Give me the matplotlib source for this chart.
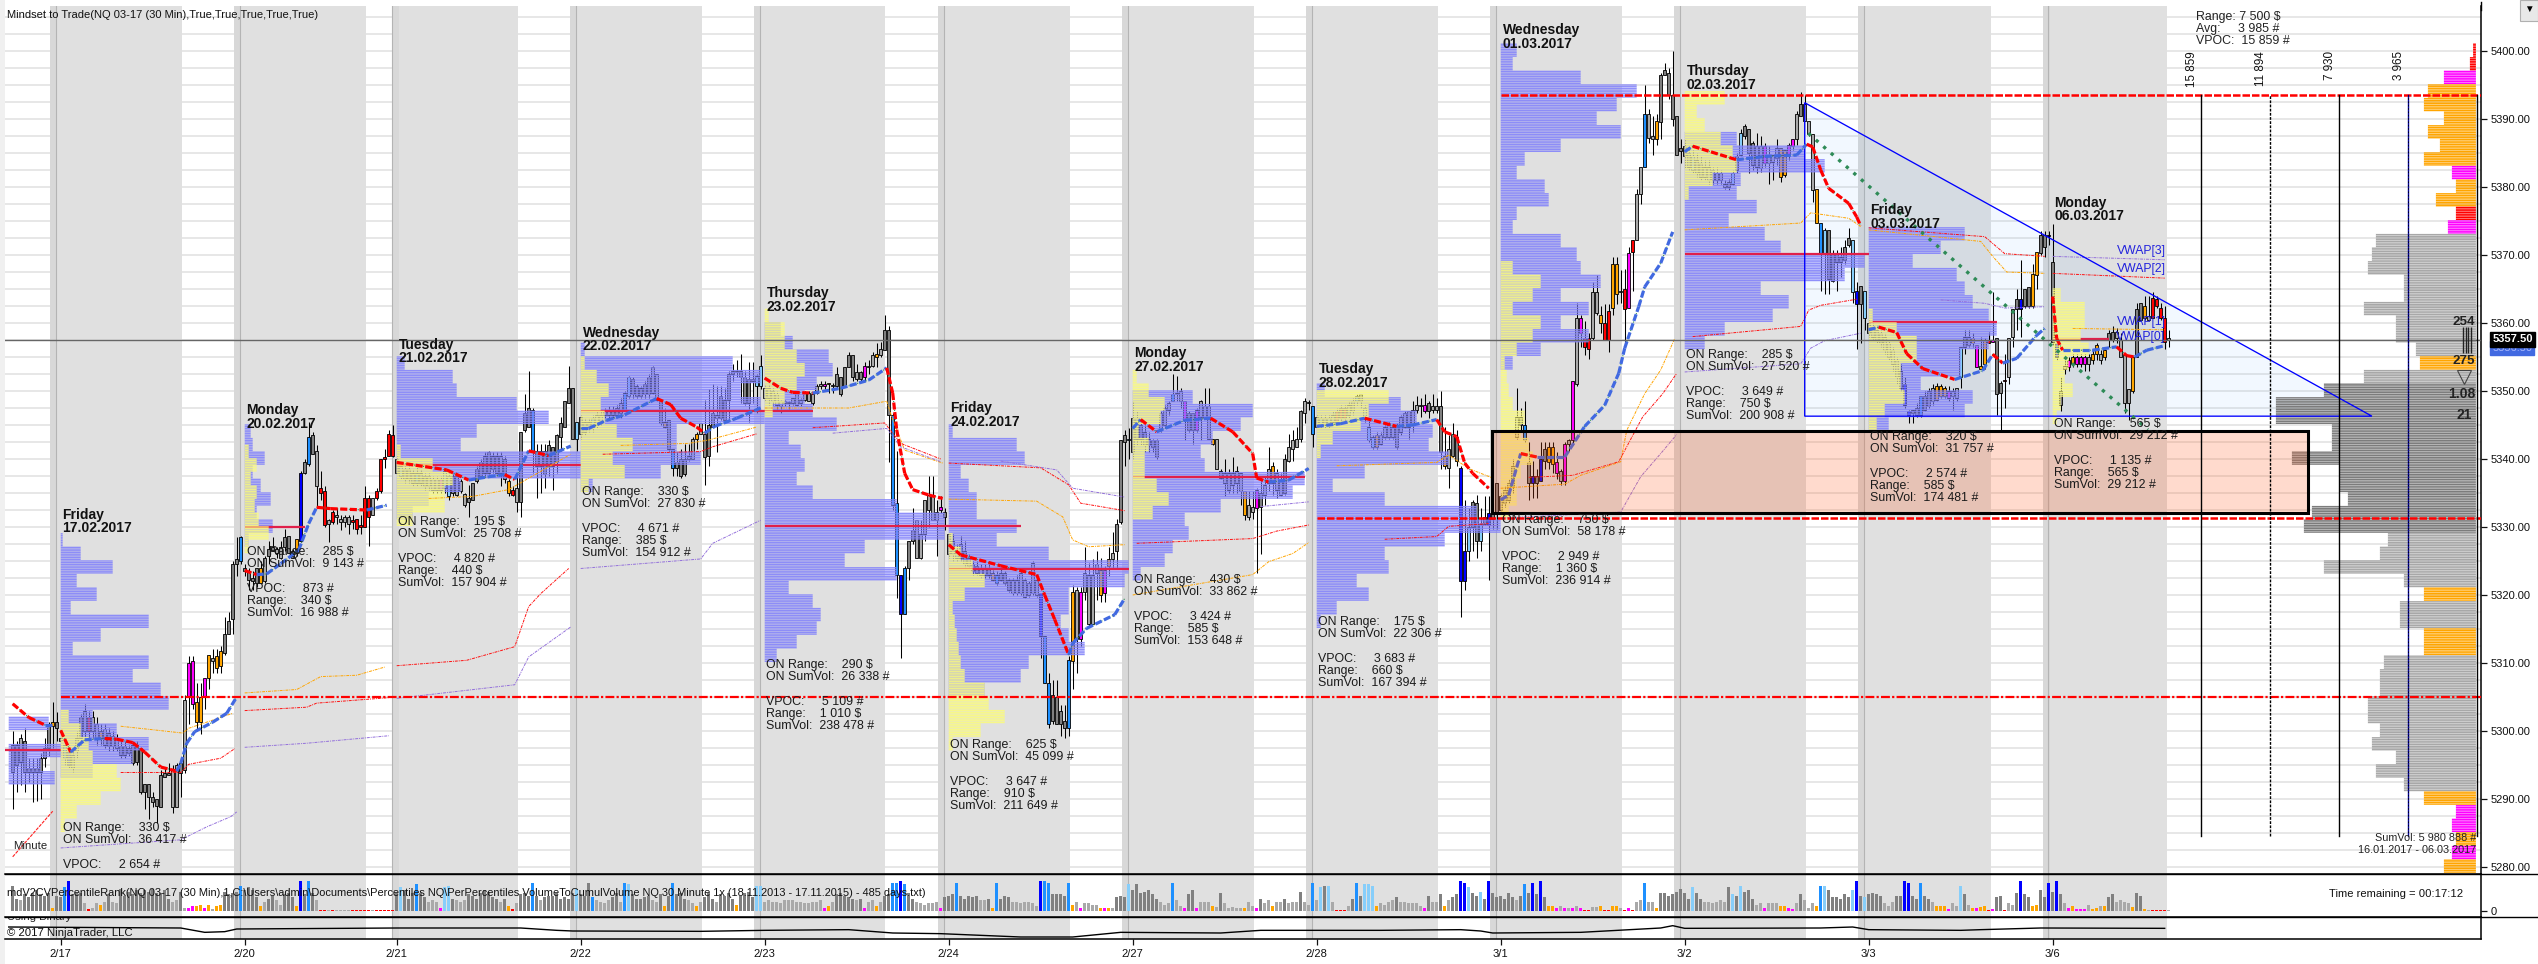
import matplotlib
matplotlib.use('Agg')
import numpy as np
import matplotlib.pyplot as plt
from matplotlib.lines import Line2D
from matplotlib.patches import Polygon, Rectangle
from matplotlib.ticker import FuncFormatter

plt.rcParams['font.family'] = ['Liberation Sans', 'DejaVu Sans']

W, H = 2538, 964
PRICE_BASE = 5000  # all prices below are minus this

# x unit = one 30 min bar, bar 0 is the first bar of 2/17
session_bars = [0, 46, 84, 130, 176, 222, 268, 314, 360, 406, 452, 498]
session_ticks = ['2/17', '2/20', '2/21', '2/22', '2/23', '2/24', '2/27', '2/28', '3/1', '3/2', '3/3', '3/6']

# (high, body top, body bottom, low)
bars_pre = [(300, 298, 294, 288.5), (298.5, 298, 295, 291), (299.5, 299, 295.5, 292), (300.5, 298.5, 294, 291),
            (296, 294.5, 294, 292.5), (296, 294.5, 294, 289.5), (296, 294.5, 294, 289.75), (296.75, 296, 294, 290),
            (299, 297.5, 296, 294.75), (301.25, 301, 297.5, 296.25), (304.25, 301.25, 300.75, 297.5),
            (302.75, 301.25, 300.5, 298.5)]
bars_0217 = [(299.5, 299, 298.5, 298.5), (299, 298, 296, 295), (298, 297, 295, 294.5), (297, 296.5, 294.5, 294),
             (300, 299, 297, 296), (302.5, 302, 299, 298), (304, 303, 300, 299), (303, 302, 300, 299),
             (303, 302, 300, 299), (302, 301, 298.75, 298), (301, 300, 298.75, 298), (301, 300.25, 298, 297.5),
             (300.5, 299.75, 297.75, 297), (300, 299.25, 297.75, 297), (299.5, 298.75, 297.5, 297),
             (298.75, 297.75, 296.5, 296), (298.5, 297.75, 296.5, 296), (298, 297.5, 296.75, 296.25),
             (298.5, 298, 295.25, 295), (298.5, 298, 295.5, 295), (297.5, 297.5, 291, 290.75),
             (292.25, 292.25, 291, 288.5), (292.25, 292.25, 290.25, 287), (291, 290.25, 289.5, 288.75),
             (290, 290, 289, 286.5), (294.25, 293.5, 288.75, 288.75), (294.75, 293.75, 293.25, 293.25),
             (295.25, 293.75, 293.5, 293.5), (295, 294.25, 288.75, 288), (295.25, 295, 288.75, 288.75),
             (296, 295.25, 293.75, 290.25), (305.25, 304.5, 294.25, 293.75), (311, 310, 305, 301),
             (311, 310.25, 304, 303.25), (307, 304.25, 301.25, 300), (307, 305, 301.25, 299.5),
             (307.75, 307.75, 305, 303.25), (311.25, 311.25, 307.75, 306.25), (312, 310.75, 310.25, 308.5),
             (312, 311, 309.25, 308.5), (312.5, 311.75, 309.5, 308.5), (316.75, 314.25, 311.5, 311.25),
             (317.5, 316.25, 314.25, 314.25), (325, 324.5, 316.5, 314.25), (328.5, 325.25, 324.5, 322.75),
             (328.75, 328.5, 325, 324.5)]
bars_0220 = [(324.5, 324, 323.5, 322.75), (324, 323.5, 322.25, 320.75), (323.5, 322.5, 322, 320.75),
             (324, 324, 321.75, 321.25), (325, 324, 321.75, 321.75), (325.75, 325.5, 322, 321.75),
             (328, 326.75, 325.75, 324.5), (328.5, 327, 326.5, 326.5), (327, 326.75, 326.25, 325.5),
             (328, 327, 325.5, 325.25), (329.75, 328.5, 327, 326.5), (328.75, 328.75, 326.25, 326.25),
             (326.75, 326.5, 325.5, 325.5), (328.25, 328.25, 326.25, 325.75), (338.25, 338, 328, 327.75),
             (340, 339.5, 338, 337.75), (345.5, 343.25, 339.25, 339), (344, 343.5, 340.75, 340.75),
             (342, 341.25, 336, 333), (338.25, 335.75, 335, 334), (336, 335.25, 330.25, 330),
             (331.25, 331, 330.5, 327.75), (332.5, 332.25, 330.75, 330.5), (332.75, 331.75, 331.5, 330.5),
             (331.75, 331.25, 330.75, 329.5), (331.75, 331.5, 330.75, 330), (331.75, 331.5, 330.5, 329),
             (331.75, 331, 330.75, 329.75), (331.25, 331.25, 329.75, 329), (331.75, 330.25, 330, 329),
             (336, 334.25, 330, 330), (334.75, 334.25, 331.5, 327.25), (334.25, 334.25, 331.75, 331.75),
             (335.75, 335.25, 334.25, 334), (340, 340, 335.25, 335), (341.5, 340.25, 340, 338.75),
             (344.25, 343.75, 340.5, 340.5), (345, 343.5, 340.5, 340.25)]
bars_0221 = [(340.5, 340, 338, 337.75), (339.5, 339, 337.5, 337), (339, 338.5, 337, 336.5), (339, 338.5, 337, 336.5),
             (338.5, 338, 336.5, 336), (339, 338, 336.5, 336), (338.5, 338, 336.5, 336), (338, 337.5, 336, 335.5),
             (338, 337.5, 336, 335.5), (337.5, 337, 335.5, 335), (337.5, 337, 335.5, 335), (337.5, 337, 335.5, 335),
             (338.5, 338.25, 335.75, 335), (338, 337.5, 334.5, 334), (338, 337.5, 335, 334.5),
             (337.5, 337.5, 334.75, 334.5), (337, 336.75, 335.25, 335), (335, 334.9, 333.25, 333),
             (336.25, 334.25, 333.75, 331.5), (336.5, 336.5, 334, 334), (339, 338.5, 336.75, 336.5),
             (340, 339.5, 337.5, 337.25), (341, 340.5, 338, 337.5), (341.25, 341, 338, 337.5),
             (341, 340.5, 338.5, 338), (341, 340.5, 338, 337.5), (341, 340.5, 338, 336), (340.5, 340, 337, 336.5),
             (337, 336.75, 335, 334.5), (336, 335.5, 334.75, 334.5), (337.5, 335.75, 333.75, 332.25),
             (344, 344, 333.75, 331.5), (349.5, 346.75, 344.25, 344), (353, 347.5, 344.75, 344.75),
             (347.5, 347.25, 341.25, 338), (342.25, 341.25, 339, 334.25), (342.25, 341.25, 339, 335),
             (342.25, 341.25, 337.75, 335.75), (342.75, 342, 339, 337.5), (341.75, 341.75, 339, 335.5),
             (343.75, 343.5, 339.5, 338), (346.25, 345.25, 343.25, 341.25), (348.5, 348.5, 344.75, 344.75),
             (353.75, 350.5, 348.25, 348.25), (350.5, 350.5, 343, 343), (345.5, 345.5, 343, 341.25)]
bars_0222 = [(346.5, 346.25, 343.75, 343), (346, 345.5, 344, 343.5), (346, 345.5, 344.5, 344), (346.5, 346, 344.5, 344),
             (347, 346.5, 345, 344.5), (347, 346.5, 345.5, 345), (347.5, 347.25, 346.5, 346), (347.75, 347.25, 346.5, 346),
             (347.75, 347.25, 346.5, 346), (348, 347.5, 346.5, 346), (349, 348.25, 346.75, 346), (350, 349.75, 347.25, 347),
             (352.25, 352, 349.25, 349), (352, 351.75, 349.5, 349), (351, 350.75, 349.25, 349),
             (350.75, 350.5, 349.25, 349), (351.5, 351, 349.5, 349), (352.5, 352, 349.5, 349),
             (353.75, 353.5, 349.75, 349.5), (352.5, 352.5, 348.75, 348.5), (348.75, 348.5, 345.25, 345),
             (347.5, 345.5, 344.75, 344.5), (345.75, 345.75, 341.5, 341.25), (341.5, 341.5, 338.75, 337.5),
             (341, 339.5, 338.75, 337.5), (341.5, 340, 337.5, 337.25), (342.25, 340, 337.75, 337.5),
             (342.25, 340.5, 340, 339.75), (343.25, 343, 340, 340), (344, 343.75, 343, 341.5),
             (345.25, 345.25, 343.75, 343.75), (348.75, 343.75, 340.25, 336.25), (350.25, 345, 340.5, 339),
             (351, 346.75, 344.75, 344.75), (350.75, 346.5, 346, 341), (350.75, 349.25, 346, 345.75),
             (350.5, 348.75, 345.75, 345.75), (353, 352.5, 348.75, 345.75), (354, 353, 352.5, 351.5),
             (354.5, 353, 352.75, 352), (355.5, 353, 352, 348.25), (353, 352, 348.25, 348),
             (354.25, 351.75, 348.25, 345.5), (354.25, 351.75, 351.5, 348.25), (352.5, 352.25, 350.75, 346.75),
             (355.25, 353.75, 350.75, 350.25)]
bars_0223 = [(351, 350.5, 349, 348.5), (351, 350.5, 349, 348), (350.5, 350, 348.5, 348), (350, 349.5, 348, 347),
             (348.75, 348.5, 347.75, 346.75), (348.75, 348.5, 348.25, 347.75), (348.5, 348.4, 348.2, 347.25),
             (349, 349, 348.25, 348), (350, 349.75, 348, 347.75), (349, 348.75, 348.25, 347.75),
             (350, 349.75, 348.75, 348.5), (350, 349.75, 348.5, 348.5), (349.5, 349.5, 348.25, 348),
             (351, 350.75, 349.75, 349.5), (351.5, 351, 350.75, 350.25), (351.5, 351, 350.75, 350.25),
             (351.25, 351.25, 351, 349.75), (351.25, 350.9, 350.7, 349.75), (353.5, 352.5, 350.75, 350.5),
             (352, 352, 349.5, 349.25), (353.5, 353.5, 350.75, 350.75), (355.75, 355.25, 353.5, 353.5),
             (355.25, 355.25, 352, 351.5), (354, 352.75, 351.75, 351.5), (353, 352.75, 351.75, 351.5),
             (354.25, 353.75, 352, 351.5), (354.5, 353.75, 353.5, 352.5), (355.75, 355.25, 353.75, 353.5),
             (357, 355.5, 355, 353.5), (357.25, 356.25, 355.25, 355), (361.25, 359, 356, 356),
             (359.5, 359, 346.5, 339.5), (346.75, 346.5, 333.25, 332.5), (341.25, 333.5, 323, 319.5),
             (323, 323, 317.25, 310.75), (324.25, 324, 317.25, 317.25), (328, 328, 324, 322.25),
             (332.75, 329.5, 328, 327.5), (331, 331, 325.5, 325.5), (331, 329, 325.5, 325.25), (334, 334, 329, 328),
             (337.5, 334.75, 332.5, 330), (337.5, 334.75, 331, 331), (334, 332.25, 331, 325.75),
             (334.5, 333, 332.5, 332), (332.75, 332.25, 331.5, 329.5)]
bars_0224 = [(329, 329, 326, 325.5), (329, 328, 326, 325), (327.5, 326.5, 325.5, 325), (328.75, 327.5, 325.5, 325),
             (328, 326.5, 324.5, 324), (326, 325.5, 324.25, 324), (325, 324.5, 323.5, 323), (325, 324.25, 323.25, 323),
             (324.5, 324, 323, 322.5), (324.5, 324, 323, 322.5), (324.5, 324, 323, 322.5), (323.75, 323.25, 322.25, 322),
             (323.5, 323, 321.75, 321.5), (324, 323.25, 322.25, 322), (323.5, 323.25, 321.75, 321.5),
             (322.5, 322.25, 320.75, 320.5), (322.5, 322.25, 320.25, 320), (323, 322.25, 320.25, 320),
             (323.5, 323.25, 320.25, 320), (322.5, 322.25, 319.75, 319.5), (322, 321.75, 320, 319.75),
             (325, 324.75, 320.25, 320), (322.5, 322.25, 320, 319.75), (320.25, 320.25, 314, 310.75),
             (314, 314, 307, 307), (308.5, 307, 301, 300.5), (307.5, 305.25, 301.5, 301), (307.5, 305, 301, 301),
             (303.75, 303, 301, 299.25), (303.75, 301.5, 300.5, 299), (311, 310.5, 300.5, 299.25),
             (321.5, 320.5, 310.25, 306.25), (321.25, 320.75, 313.5, 308.5), (321.25, 320.5, 313.5, 312.5),
             (327, 323.25, 320.5, 319.25), (324.75, 323, 315.75, 315.5), (325.25, 323, 315.75, 315.75),
             (326.5, 324.5, 323.25, 319.25), (325.5, 323.75, 320, 319), (324.25, 323.75, 320.25, 319),
             (327, 325.25, 324.25, 322.75), (329.25, 326.25, 325.25, 324), (331.25, 330.5, 326.5, 324),
             (342.75, 342.75, 330.75, 330.5), (344.25, 343.5, 342.5, 339), (344.5, 343, 342.75, 340)]
bars_0227 = [(348.5, 346, 341, 340), (347, 346, 343, 342), (346, 345, 343, 342), (345, 344, 342, 341),
             (344, 343, 342, 341), (343, 342.75, 341.75, 341), (343, 342.75, 340.25, 340), (347, 346.75, 344.25, 344),
             (348, 347.5, 345, 344.5), (348.5, 348.25, 347.25, 346.5), (352.5, 349.5, 348.5, 348.5),
             (352.25, 349.75, 349.5, 348.5), (350.5, 350, 348.5, 347.5), (348.5, 348.5, 345.75, 342.75),
             (347, 346.75, 344.25, 344), (346.75, 346.75, 344.25, 342.25), (347.5, 347.25, 344.25, 344),
             (348.75, 348.5, 346.25, 342.75), (350.5, 347.75, 346, 346), (350.5, 347.75, 343, 343),
             (343, 343, 342.25, 342), (343, 343, 338.5, 338.5), (338.5, 338.25, 337.25, 337), (340, 338, 336.5, 334.5),
             (338.5, 338, 335.5, 335), (340.25, 338, 336.25, 335), (339, 338.25, 336.5, 335),
             (338, 338, 335.25, 333.25), (335.25, 335.25, 331.75, 331), (335.25, 333.25, 331.5, 331),
             (335.25, 333, 332.25, 331.25), (335.75, 335.5, 332.75, 323.25), (337.5, 335, 333, 326),
             (337.5, 336.25, 334.75, 333.25), (341.75, 338.5, 336.5, 335.25), (339.5, 339, 336.5, 334.75),
             (338.5, 338, 335.5, 334.25), (338, 337, 334.75, 334.5), (340.75, 340, 335, 334.75),
             (343.75, 341.75, 339.75, 339.5), (344.25, 342.75, 341.5, 339.75), (344.75, 343, 341.75, 341.75),
             (347.25, 347, 343, 342.5), (349, 348.5, 346.75, 345.25), (348.75, 348.4, 348.2, 347.25),
             (347.75, 347.75, 343.75, 341.75)]
bars_0228 = [(346.5, 346.25, 344.75, 344.5), (346.5, 346, 345, 344.5), (346.5, 346, 345, 344.5), (346.5, 346, 345, 344.5),
             (347, 346.5, 345.5, 345), (347.5, 347, 345.5, 345), (348, 347.5, 346, 345.5), (348, 347.5, 346, 345.5),
             (348.5, 348, 346.5, 346), (349, 348.5, 347, 346.5), (349.5, 349.25, 348.5, 348),
             (349.5, 349.5, 348.5, 347.5), (348, 347.5, 346, 345.5), (346, 344.75, 342.75, 342.5),
             (343.5, 343.25, 341.75, 341.5), (344, 343.5, 341.75, 341.5), (344, 343.5, 342.25, 342),
             (345, 344.75, 343.25, 343), (345.5, 345.25, 343.25, 343), (345, 344.75, 343.25, 343),
             (345.25, 345, 341.75, 341.5), (346.5, 346.25, 344, 343.5), (347, 346.75, 344.75, 344.5),
             (347, 347, 344.75, 343), (348.5, 347.25, 345, 344), (349.25, 348, 347.25, 346.75),
             (349, 348, 347.75, 346.25), (349.5, 348, 347, 346.75), (348.5, 348.25, 347, 346),
             (349.5, 347.75, 347.25, 346.75), (349, 347.75, 347.25, 346.75), (350, 347.75, 341, 338.5),
             (344.75, 340.5, 339, 338.5), (343.5, 341.5, 338.75, 335.75), (345.25, 343.75, 340.5, 340.25),
             (344.25, 343.25, 339.75, 339), (339, 338.75, 322, 316.75), (334, 326.5, 322, 320.75),
             (332.75, 330, 326.5, 325), (334, 333.75, 330, 326.5), (334.75, 333.5, 328, 325.5),
             (332.75, 330.5, 328, 326.5), (334.5, 331.5, 330.5, 330.25), (334.5, 332, 330.25, 322.25),
             (333.5, 332, 331.25, 329.75), (336.5, 336.5, 332, 329.75)]
bars_0301 = [(335, 334.5, 332.5, 332), (336, 335.5, 333.5, 333), (337, 336.5, 334, 333.5), (340, 339, 336, 335),
             (350.5, 346.25, 343.25, 343), (347.5, 346.25, 345, 344), (348.5, 345, 342.75, 342.5),
             (342.5, 339.5, 336.5, 334), (339.75, 337.5, 336.5, 334.25), (338.5, 337.5, 336.5, 334.25),
             (342.5, 340, 336.75, 336.75), (342.5, 341.5, 339.75, 338.5), (342.5, 341.75, 339.5, 338.5),
             (342.5, 341.75, 339.25, 338), (341, 339.5, 338, 337), (338.5, 338.25, 336.75, 336.25),
             (342.5, 342.25, 336.75, 336.25), (343, 342.75, 342.25, 341.25), (351.5, 351.5, 342.75, 342),
             (363, 360.75, 351, 350.75), (361.25, 360.75, 358.5, 356.5), (360.25, 357.75, 356.5, 355.25),
             (358.5, 357.75, 356.25, 354.75), (366, 364.5, 357.75, 357.5), (367, 364.5, 361.5, 361.25),
             (362.5, 361.25, 360, 358.5), (362.75, 360, 357.5, 357.5), (362.75, 361.75, 357.5, 355.75),
             (369.75, 368.75, 362.25, 361.25), (369.75, 368.75, 364.25, 362.75), (367.75, 364.75, 364.5, 363),
             (368, 365, 362, 356.5), (371.25, 370.25, 362.25, 362.25), (372.25, 372.25, 370.5, 364.75),
             (379.75, 379, 372.25, 372.25), (383, 383, 379, 377.5), (395, 390.75, 383, 383),
             (391.5, 390.75, 387.25, 386.5), (390.5, 387.5, 387, 384.75), (390.75, 389.75, 387, 386.25),
             (396.75, 396.5, 389.5, 387), (398.25, 397.25, 396.5, 396.5), (397.5, 396.75, 393.5, 393),
             (400, 393.5, 390, 389), (390.5, 390.5, 384.75, 384.75), (387, 385.75, 385.25, 383.5)]
bars_0302 = [(387, 386, 384.5, 382.75), (386, 385, 383, 382.5), (385.5, 384.5, 382.5, 382), (385, 384, 382, 381.5),
             (384.5, 383.5, 381.5, 381), (384, 383, 381.5, 381), (384, 383, 381, 380.5), (383, 382.5, 381, 380.5),
             (383, 382, 381, 380.5), (382.5, 382, 381, 380.5), (381, 380.5, 380, 379.75), (381.25, 380.75, 380, 379.5),
             (382.5, 382, 380.5, 380.25), (385, 384.5, 382.5, 382), (388.5, 388, 384.75, 384.5),
             (389.25, 389, 387.5, 387), (388.5, 388.5, 385, 382), (386.75, 386.5, 383.25, 382.5), (388, 386, 383, 382),
             (387.5, 386, 382.75, 382.25), (386.5, 386, 383.5, 383), (386, 384.75, 383.5, 380.5),
             (384.75, 384.75, 383.75, 381), (387, 385.75, 384.25, 383.25), (385.75, 385.75, 381.5, 380.75),
             (385.5, 385.5, 381.75, 381.5), (386.5, 386.25, 384.75, 384), (387, 387, 386, 385.5),
             (391.25, 390.75, 387, 386.25), (394, 392.25, 390.5, 390.5), (393.5, 392.25, 389.75, 389.75),
             (389.75, 389.75, 387.75, 387.5), (387.75, 387.75, 379.5, 377.75), (379.75, 379.75, 374.75, 374.75),
             (374.75, 374.75, 370.25, 364.75), (374, 373.75, 370.25, 364.25), (373.75, 373.75, 366.5, 364.25),
             (370.75, 370.25, 366.25, 366), (370.75, 370.25, 369, 364.75), (371.25, 369.75, 369, 366.75),
             (372.25, 371.25, 369.25, 368.75), (374, 372.5, 371.5, 371.25), (372.25, 372.25, 364.5, 363),
             (366, 364.75, 362.75, 356.25), (365.5, 365.5, 362.75, 357), (364.75, 364.75, 360.75, 359)]
bars_0303 = [(360.5, 360, 358.5, 358), (360, 359.5, 358, 357.5), (359.5, 359, 357.5, 357), (359, 358.5, 357, 356.5),
             (358.5, 358, 356, 355.5), (357.5, 357, 355, 354.5), (356.5, 356, 354, 353), (355, 354.5, 352, 351),
             (354, 353, 350.5, 350), (352, 351, 348, 347.5), (347.25, 347, 346.5, 345.25),
             (347.25, 347.25, 346.75, 345.25), (348.25, 347.5, 346.5, 346.25), (349.25, 349.25, 346.5, 346.25),
             (350, 349.25, 347.25, 347), (350.5, 350, 347.75, 347.5), (351, 350.5, 348.5, 348),
             (351.25, 350.75, 348.75, 348.5), (351, 350.75, 349.25, 349), (350.75, 350.5, 349.25, 349),
             (350.75, 350, 349, 348.5), (350.5, 350, 349.25, 347.25), (350.5, 350.5, 349, 348.5),
             (356.5, 356.5, 352, 350.5), (359, 358, 356.5, 355.5), (359, 358, 356.75, 356.5),
             (358.5, 357.75, 357, 356.5), (356.75, 356.75, 353.5, 353.5), (358, 353.75, 353.25, 353.25),
             (357.75, 357.5, 354, 353.25), (358.75, 357.5, 357, 357), (364.5, 357.5, 357.25, 357.25),
             (357.75, 357.75, 349.5, 346.5), (351.5, 351.25, 349.75, 344.25), (355.5, 351.6, 351.4, 347.5),
             (357.75, 357.75, 352, 351), (362, 362, 358, 356.5), (365, 363.5, 362, 359), (369.25, 363.5, 362, 358),
             (365, 365, 362.5, 362.25), (365.25, 365.25, 362.5, 362.25), (368.75, 367.25, 362.5, 362.25),
             (370.5, 370.5, 367, 365), (373.5, 373, 370.25, 370), (373.5, 373, 371.25, 369.75),
             (373.5, 373, 372.75, 371.5)]
bars_0306 = [(374.5, 369, 357.25, 356.75), (358, 357, 355, 354.5), (352, 350, 348, 347), (354.5, 353.75, 353.25, 352.5),
             (355, 354.5, 353.5, 353), (355.5, 355, 354, 353.5), (355.5, 355, 354, 353.5), (355.5, 355, 354, 353.5),
             (355.5, 355, 354, 353), (355.5, 355, 354, 353), (356, 355.5, 354.5, 354), (357, 356.75, 355.5, 354.5),
             (356, 355.5, 354.5, 354), (356.5, 356, 355, 354.5), (359, 358.5, 357.5, 356.5),
             (359.5, 358.75, 357.5, 357.25), (359.25, 358.75, 357.75, 357), (358.5, 357.5, 355, 355),
             (355.25, 355.25, 348.25, 346.75), (350.25, 350.25, 348.25, 345.75), (355, 355, 350, 349.75),
             (363, 362, 355, 355), (363, 363, 360.5, 360.5), (364, 362.5, 360.75, 360.5), (364, 361, 360.5, 360.25),
             (364.5, 363.75, 360.75, 360.75), (364, 363.5, 362.5, 362.25), (363, 362.25, 360.75, 360.5),
             (362.5, 360.75, 357.25, 356.25), (359, 357.75, 357.5, 356.5)]

# volume per bar, 100 = tallest bar in the panel
vol_pre = [85, 40, 35, 55, 45, 60, 70, 55, 50, 60, 10, 50]
vol_0217 = [45, 80, 100, 55, 60, 60, 25, 5, 8, 25, 20, 30, 55, 30, 25, 75, 50, 65, 55, 70, 60, 70, 65, 75, 60, 60, 70,
            40, 30, 35, 65, 10, 8, 15, 15, 18, 10, 18, 5, 15, 18, 65, 55, 60, 65, 85]
vol_0220 = [70, 80, 70, 45, 15, 30, 40, 50, 35, 20, 55, 60, 45, 15, 100, 55, 100, 60, 35, 3, 3, 4, 3, 4, 4, 4, 4, 3, 3,
            3, 3, 3, 4, 3, 3, 3, 3, 3]
vol_0221 = [60, 80, 70, 40, 60, 90, 60, 45, 30, 35, 30, 8, 80, 85, 40, 35, 30, 35, 55, 50, 40, 60, 70, 65, 45, 40, 30,
            40, 15, 5, 25, 55, 60, 50, 95, 50, 35, 45, 50, 50, 60, 40, 45, 40, 60, 75]
vol_0222 = [55, 50, 95, 45, 35, 30, 25, 35, 45, 60, 30, 95, 90, 55, 40, 40, 45, 50, 35, 30, 55, 15, 50, 95, 55, 60, 40,
            35, 25, 15, 30, 45, 60, 40, 30, 55, 50, 60, 40, 20, 50, 60, 65, 45, 85, 85]
vol_0223 = [30, 35, 30, 30, 25, 35, 35, 35, 30, 30, 25, 25, 30, 30, 35, 10, 15, 30, 55, 60, 50, 45, 40, 35, 40, 10, 30,
            35, 15, 30, 50, 55, 95, 95, 100, 90, 60, 40, 30, 25, 20, 25, 25, 30, 8, 45]
vol_0224 = [50, 55, 95, 50, 40, 50, 45, 50, 35, 35, 40, 10, 95, 40, 50, 45, 30, 30, 25, 30, 30, 25, 15, 100, 100, 95,
            55, 55, 55, 50, 95, 20, 30, 10, 25, 25, 20, 20, 10, 10, 10, 10, 45, 50, 45, 90]
vol_0227 = [70, 90, 60, 65, 70, 55, 40, 30, 20, 25, 95, 35, 15, 8, 55, 70, 10, 30, 30, 30, 15, 12, 60, 25, 10, 12, 8, 8,
            8, 30, 15, 8, 40, 25, 35, 15, 30, 30, 40, 25, 30, 30, 65, 30, 20, 95]
vol_0228 = [35, 80, 85, 85, 30, 3, 3, 3, 15, 40, 95, 50, 90, 90, 85, 15, 25, 20, 30, 35, 45, 30, 30, 25, 25, 25, 15, 10,
            50, 30, 30, 55, 15, 35, 45, 55, 100, 95, 80, 60, 50, 65, 40, 100, 60, 45]
vol_0301 = [50, 40, 60, 45, 35, 50, 90, 60, 95, 55, 100, 45, 15, 15, 8, 15, 8, 10, 8, 15, 8, 3, 3, 12, 12, 15, 3, 3, 15,
            15, 8, 3, 8, 3, 30, 35, 95, 30, 30, 10, 60, 60, 50, 55, 65, 75]
vol_0302 = [60, 40, 80, 60, 40, 30, 28, 25, 30, 35, 30, 80, 55, 50, 85, 65, 70, 40, 20, 25, 8, 25, 25, 25, 15, 15, 8, 5,
            25, 55, 35, 8, 25, 15, 85, 85, 70, 45, 45, 40, 55, 45, 70, 100, 50, 45]
vol_0303 = [55, 60, 55, 50, 25, 15, 30, 50, 50, 100, 95, 50, 40, 95, 50, 40, 30, 15, 15, 15, 5, 25, 15, 85, 55, 20, 8,
            8, 12, 15, 3, 5, 45, 50, 3, 25, 20, 60, 100, 55, 45, 15, 18, 70, 45, 95]
vol_0306 = [65, 100, 55, 25, 8, 15, 5, 5, 5, 20, 5, 8, 15, 15, 45, 55, 30, 35, 30, 25, 12, 60, 50, 5, 3, 3, 3, 3, 3, 3]

# percentile class of a bar, everything else is plain grey
rank_blue = [60, 210, 245, 350, 351, 357, 368, 370, 449, 461, 462, 490, 497, 499, 2]
rank_dodger = [1, 45, 62, 89, 118, 133, 141, 153, 208, 209, 211, 224, 234, 246, 247, 252, 278, 313, 324, 366, 396, 440,
               465]
rank_sky = [85, 96, 97, 129, 142, 174, 175, 267, 315, 317, 326, 327, 328, 352, 355, 408, 418, 420, 441, 448, 451, 475]
rank_orange = [34, 35, 37, 39, 40, 50, 59, 112, 151, 159, 169, 192, 204, 233, 253, 260, 262, 288, 296, 303, 329, 346,
               372, 373, 385, 388, 389, 399, 430, 431, 439, 469, 470, 471, 478, 480, 481, 493, 494, 503, 508, 509, 511,
               518, 521, -2, 10]
rank_magenta = [32, 33, 36, 95, 191, 201, 220, 255, 261, 281, 284, 299, 341, 374, 376, 378, 380, 392, 426, 432, 433,
                472, 479, 483, 502, 504, 505, 506]
rank_red = [7, 65, 66, 68, 73, 74, 75, 76, 77, 79, 80, 81, 82, 83, 113, 319, 320, 321, 381, 382, 386, 387, 391, 393,
            482, 486, 523, 524, 525, 526]

# session volume profile, one value per 2 points going down from the top level, in bar widths
blue_0217 = [.5, 5, 13, 4, 9, 2.5, 22, 10, 3, 22, 18, 25, 27, 8, 14, 22, 18, 8]
yellow_0217 = [2, 5, 7, 8, 14, 15, 10, 4, 1]
blue_0220 = [1.5, 2, 5, 2, 4, 6.5, 3, 7, 1]
yellow_0220 = [1, 3, 1.5, 3, 2.5, 3.5, 6, 1]
blue_0221 = [2, 14, 15, 30, 38, 20, 16, 46, 46, 16, 8, 4]
yellow_0221 = [1, 9, 14, 12, 12, 4]
blue_0222 = [1, 38, 45, 40, 45, 46, 24, 24, 30, 20, 3]
yellow_0222 = [1, 4, 7, 5, 6, 9, 13, 8, 11, 2]
blue_0223 = [4, 7, 16, 17, 13, 10, 12, 18, 6, 9, 10, 8, 12, 33, 45, 45, 25, 20, 33, 6, 12, 14, 13, 8, 3]
yellow_0223 = [1, 5, 5, 8, 10, 8, 5, 2]
blue_0224 = [1, 17, 19, 3, 5, 7, 7, 17, 12, 25, 45, 44, 30, 30, 28, 30, 34, 20, 18, 9]
yellow_0224 = [1, 3, 6, 9, 4, 1, 1.5, 2, 2.5, 3, 4, 9, 10, 14, 8, 1]
blue_0227 = [15, 30, 27, 20, 17, 18, 43, 40, 22, 13, 14, 10, 8, 2]
yellow_0227 = [1, 4, 8, 7, 1.5, 4, 3, 3, 6, 9, 5]
blue_0228 = [2, 21, 25, 29, 28, 33, 12, 4, 17, 40, 46, 32, 17, 18, 10, 13, 5, 1]
yellow_0228 = [18, 13, 11, 4, 1]
blue_0301 = [4, 3, 20, 34, 29, 24, 30, 15, 6, 4, 11, 12, 4, 3, 15, 19, 20, 25, 15, 22, 15, 22, 10, 3]
yellow_0301 = [3, 10, 8, 3, 10, 8, 4, 1, 1.5, 2, 3, 6, 5, 7, 8, 5, 4, 4, 2]
blue_0302 = [13, 30, 35, 14, 13, 18, 11, 20, 24, 45, 40, 19, 26, 22, 10, 5]
yellow_0302 = [10, 3, 5, 9, 12, 13, 7, 1]
blue_0303 = [24, 18, 11, 22, 24, 26, 30, 32, 30, 23, 23, 13, 26, 24, 5]
yellow_0303 = [1, 7, 12, 12, 8, 8, 9, 4, 2]
yellow_0306 = [2, 8, 8, 7, 9, 4, 3, 5, 2, 1]
blue_pre = [10, 0, 13.5, 8, 11.5]

blue_profiles = [blue_pre, blue_0217, blue_0220, blue_0221, blue_0222, blue_0223, blue_0224, blue_0227, blue_0228,
                 blue_0301, blue_0302, blue_0303]
blue_starts = [-13, 0, 46, 84, 130, 176, 222, 268, 314, 360, 406, 452]
blue_tops = [301, 328, 344, 354, 356, 359, 344, 349, 350, 400, 387, 373]
yellow_profiles = [yellow_0217, yellow_0220, yellow_0221, yellow_0222, yellow_0223, yellow_0224, yellow_0227,
                   yellow_0228, yellow_0301, yellow_0302, yellow_0303, yellow_0306]
yellow_tops = [302, 341, 341, 354, 361, 328, 352, 349, 368, 393, 361, 364]

# session POC lines: start bar, price, length in bars
poc_starts = [-13.9, 46, 84, 130, 176, 222, 268, 406, 452, 498]
poc_prices = [297.2, 330, 339.1, 347.1, 330.2, 323.8, 337.3, 370.1, 360.1, 357.6]
poc_lengths = [14, 15, 46, 58, 64, 45, 43, 46, 32, 14]

# VWAP knots: [(bar, price), ...] per session
vwap0_lines = [
    [(-12, 304), (-8, 302), (-4, 300.9), (-2, 300.9)],
    [(0, 300.1), (2.5, 296.9), (6, 298.7), (11, 298.9), (14, 298.8), (18, 298.3), (21, 296.9), (25, 294.7), (29, 294.1),
     (30, 295.2), (31.5, 298.2), (33.5, 299.9), (38, 301.3), (41.5, 302.6), (44, 305)],
    [(46, 323.6), (49, 323), (51.5, 323.1), (55, 324.6), (59.5, 326.6), (62, 330.5), (64, 332.9), (67.5, 332.7),
     (76.5, 332.5), (81.5, 333.2)],
    [(84, 339.5), (96.5, 338.4), (102, 336.9), (107, 337.4), (111, 337.7), (113.5, 337), (117, 341.2), (122, 340.5),
     (127.5, 341.9)],
    [(130, 344.5), (132, 344.5), (136.5, 345.7), (141, 346.5), (149, 348.9), (152.5, 348), (155, 346), (159, 344.7),
     (161, 343.8), (163.5, 344.8), (169, 346), (175, 347.5)],
    [(176, 351.9), (180, 350.4), (183, 349.8), (188, 349.7), (195, 350.4), (202, 351.6), (206.5, 353.4), (208, 349.7),
     (209, 344.3), (211, 337.9), (213, 335.5), (217, 334.7), (220.5, 334.2)],
    [(222, 327.4), (225, 325.9), (235, 324.3), (244, 323), (246, 320), (248.5, 316.4), (252, 311.2), (253, 312.9),
     (256.5, 315.1), (263.5, 317.1), (266, 319.5)],
    [(268, 344.5), (270, 345.8), (274, 344), (281, 345.7), (287.5, 346), (293, 344), (298, 340.8), (299, 337.2),
     (302, 336.6), (307, 336.9), (312, 338.6)],
    [(314, 344.8), (320, 345.2), (326, 346), (334, 344.8), (338, 345), (344, 345.8), (346, 344), (349, 343.3),
     (351, 339.4), (353, 337.9), (357, 335.7)],
    [(360, 334), (362, 334.7), (365, 340.8), (369, 340.3), (376, 340.3), (381, 344.8), (386, 347.9), (389.5, 352.6),
     (391, 356.3), (394.5, 362.4), (396, 365.3), (400, 368.8), (403, 373.4)],
    [(406, 385.2), (408, 386), (419, 384), (426, 384.5), (434, 384.7), (436.5, 386.3), (438, 385.9), (440, 382.5),
     (442, 379.8), (447, 377.6), (449, 375.6), (450, 374.3)],
    [(452, 359), (454.5, 359.4), (459, 358.6), (461.5, 355.5), (465.5, 353.3), (473.5, 351.7), (480.5, 353),
     (483, 355.4), (485.5, 354.1), (489, 354.8), (494, 358.2), (496, 359.2)],
    [(498, 363.9), (499, 357.7), (500.5, 356), (508, 356), (514, 356.5), (516.5, 355.2), (518.5, 355), (521.5, 356),
     (525.5, 356.6)],
]
vwap1_lines = [
    [(15, 300.7), (30.5, 299.7), (32, 300.4), (43, 302.6)],
    [(46, 305.6), (59, 306.1), (65, 308), (74, 308.2), (81, 309.4)],
    [(92, 334.2), (103, 334.5), (112, 335.5), (127.5, 340.7)],
    [(140, 342), (157, 342.3), (162, 342.8), (174, 344.7)],
    [(176, 347.5), (197, 347.5), (206.5, 348.5), (208, 345.8), (211, 341.3), (220.5, 339.4)],
    [(222, 334.1), (244, 333.8), (250.5, 331.5), (253, 328.1), (257, 327.1), (266, 327.4)],
    [(268, 320), (298, 323), (302, 324.9), (308, 326.1), (312, 327.7)],
    [(319, 339), (344, 339.5), (347, 340.6), (352, 338.6), (358, 337.2)],
    [(360, 335.7), (376, 336.3), (380, 337.6), (390, 339.6), (391.5, 344.2), (396, 349.6), (400, 353.1), (403.5, 357.7)],
    [(406, 373.7), (435, 374.7), (437.5, 376.2), (447, 375.4), (450, 374.2)],
    [(452, 373.7), (480, 372), (483, 369.8), (486.5, 367.5), (496, 367.3)],
    [(503, 359.2), (526, 359)],
]
vwap2_lines = [
    [(15, 293.9), (30, 293.9), (32, 295.1), (40, 296), (43.5, 297.4)],
    [(46, 303), (61.5, 303.5), (64, 304.1), (82, 304.9)],
    [(84, 309.6), (101.5, 310.4), (113.5, 312.4), (117, 318.3), (120, 320.2), (127, 323.9)],
    [(135.5, 340.7), (160, 341.1), (163, 341.8), (174, 343.7)],
    [(188, 344.6), (206, 345.3), (210, 342.3), (220, 340)],
    [(222, 339.4), (245, 338.7), (252, 336.2), (255, 333.5), (266, 332.4)],
    [(269, 327.6), (298, 328.3), (304, 329.4), (312, 330.3)],
    [(331, 328.2), (344, 328.6), (347, 330.1), (357, 330.5)],
    [(367, 337.3), (378, 337.6), (389.5, 339.6), (395.5, 346.2), (400.5, 349.6), (404, 352.6)],
    [(408, 358), (435, 359.5), (437, 361.9), (440, 362.6), (449, 363.5)],
    [(452, 374), (481, 372.7), (486, 370.2), (496, 369.8)],
    [(498, 367.3), (526, 366.6)],
]
vwap3_lines = [
    [(0, 282.8), (30, 284), (36.5, 285.9), (42.5, 287.4), (44, 288.1)],
    [(46, 297.6), (61.5, 298.2), (82, 299.3)],
    [(84, 304.8), (113.5, 306.8), (117, 310.9), (127.5, 315.3)],
    [(130, 323.9), (160, 325.3), (163, 327.6), (175, 331)],
    [(193, 343.8), (206.5, 344.5), (210, 341.8), (220, 339.6)],
    [(235, 339.7), (249, 338.4), (253, 335.7), (266, 334.4)],
    [(300, 333), (312, 333.7)],
    [(355, 330.3), (359, 330.3)],
    [(360, 331.3), (390, 332.2), (395, 337.4), (400, 340.8), (404, 343.6)],
    [(406, 352.8), (435, 354), (437.5, 356.3), (441, 357.4), (450, 358.5)],
    [(470, 363.4), (481, 362.9), (486, 362.2), (496, 362.4)],
    [(498, 369.8), (526, 369.3)],
]

# lower indicator line
cumul_bars = [-13, 30, 36, 41, 44, 84, 115, 124, 128, 160, 176, 197, 208, 220, 240, 253, 265, 290, 300, 330, 350, 355,
              358, 380, 400, 403, 406, 440, 448, 452, 475, 480, 495, 526]
cumul_vals = [36, 33, 20, 22, 30, 33, 33, 26, 24, 23, 26, 28, 18, 16, 6, 6, 20, 18, 26, 26, 28, 24, 18, 20, 33, 40, 32,
              33, 36, 28, 26, 28, 33, 32]

# overall profile on the right, one value per 2 points from 5400 down to 5280
vp_levels = list(range(400, 278, -2))
vp_widths = [.7, 1.5, 8, 12, 13, 8, 12, 9, 13, 6, 5, 10, 5, 7, 25, 26, 27, 18, 18, 28, 20, 20, 15, 14, 28, 38, 50, 50,
             36, 36, 46, 34, 34, 32, 41, 43, 22, 24, 38, 18, 13, 19, 19, 13, 13, 23, 24, 24, 27, 27, 24, 26, 20, 25, 18,
             13, 5, 6, 5, 6, 8]
vp_class = 'rrmoooooomoorm' + 'g' * 9 + 'o' + 'g' + 'k' * 11 + 'g' * 4 + 'o' + 'gg' + 'oo' + 'g' * 10 + 'ommomo'

# text blocks under each session
day_names = ['Friday', 'Monday', 'Tuesday', 'Wednesday', 'Thursday', 'Friday', 'Monday', 'Tuesday', 'Wednesday',
             'Thursday', 'Friday', 'Monday']
day_dates = ['17.02.2017', '20.02.2017', '21.02.2017', '22.02.2017', '23.02.2017', '24.02.2017', '27.02.2017',
             '28.02.2017', '01.03.2017', '02.03.2017', '03.03.2017', '06.03.2017']
title_prices = [331.8, 347.2, 356.8, 358.6, 364.4, 347.5, 355.6, 353.2, 403.1, 397, 376.6, 377.7]
info_prices = [285.7, 326.3, 330.7, 335.2, 309.7, 297.9, 322.2, 316, 331, 355.3, 343.2, 345.2]
on_range = ['330', '285', '195', '330', '290', '625', '430', '175', '750', '285', '320', '565']
on_sumvol = ['36 417', '9 143', '25 708', '27 830', '26 338', '45 099', '33 862', '22 306', '58 178', '27 520', '31 757',
             '29 212']
day_vpoc = ['2 654', '873', '4 820', '4 671', '5 109', '3 647', '3 424', '3 683', '2 949', '3 649', '2 574', '1 135']
day_range = ['', '340', '440', '385', '1 010', '910', '585', '660', '1 360', '750', '585', '565']
day_sumvol = ['', '16 988', '157 904', '154 912', '238 478', '211 649', '153 648', '167 394', '236 914', '200 908',
              '174 481', '29 212']

band_edges = [(-2.7, 30.3), (43.3, 76.3), (83, 114.3), (127.3, 160.3), (173.3, 206), (219.3, 252.3), (265.3, 298.3),
              (311.3, 344.3), (357.3, 390.3), (403.3, 436.3), (449.4, 482.6), (495.6, 526.6)]

vline_bars = [535, 552.3, 569.5, 586.7]
vline_labels = ['15 859', '11 894', '7 930', '3 965']

RANK_COLORS = {'b': '#0000ff', 'd': '#1e90ff', 'l': '#87cefa', 'o': '#ffa500', 'm': '#ff00ff', 'r': '#ff0000'}
BLUE_PROF = '#8484fa'
YELLOW_PROF = '#fafa80'
BAND = '#e0e0e0'


def px_axes(fig, left, top, right, bottom):
    return fig.add_axes([left / W, 1 - bottom / H, (right - left) / W, (bottom - top) / H])


def draw_profile(ax, start, top, widths, color, z, alpha=0.9):
    # each 2 point level is drawn as 8 thin rows, like the quarter point rows of the platform
    for k, w in enumerate(widths):
        if w <= 0:
            continue
        rows = top + 1 - 2 * k - np.arange(8) * 0.25
        lc = ax.hlines(rows, start, start + w, colors=color, linewidth=1.0, alpha=alpha, zorder=z)
        lc.set_snap(False)


def draw_bands(ax):
    for b0, b1 in band_edges:
        ax.axvspan(b0, b1, color=BAND, lw=0, zorder=1)
        ax.axvspan(b0, b0 + 1.6, color='#d8d8d8', lw=0, zorder=1)
    for s in session_bars:
        ax.axvline(s - 1.1, color='#b4b4b4', lw=0.8, zorder=1.2)


fig = plt.figure(figsize=(W / 100, H / 100), dpi=100, facecolor='white')
ax = px_axes(fig, 5, 6, 2481, 874)
ax_vol = px_axes(fig, 5, 874, 2481, 917)
ax_cum = px_axes(fig, 5, 917, 2481, 939)
for a in (ax, ax_vol, ax_cum):
    a.set_xlim(-13.925, 605.075)
    a.set_facecolor('white')
    draw_bands(a)
    for side in ('left', 'top'):
        a.spines[side].set_visible(False)
    a.spines['bottom'].set_linewidth(1.1)
    a.spines['right'].set_linewidth(1.1)
ax.set_ylim(278.97, 406.62)
ax_vol.set_ylim(-21.2, 124.2)
ax_cum.set_ylim(0, 66)

all_bars = bars_pre + bars_0217 + bars_0220 + bars_0221 + bars_0222 + bars_0223 + bars_0224 + bars_0227 + bars_0228 \
    + bars_0301 + bars_0302 + bars_0303 + bars_0306
all_vol = vol_pre + vol_0217 + vol_0220 + vol_0221 + vol_0222 + vol_0223 + vol_0224 + vol_0227 + vol_0228 \
    + vol_0301 + vol_0302 + vol_0303 + vol_0306
assert len(all_bars) == len(all_vol) == 540
ohlc = np.array(all_bars)
x_bars = np.arange(-12, 528)

rank = {}
for key, members in (('b', rank_blue), ('d', rank_dodger), ('l', rank_sky), ('o', rank_orange), ('m', rank_magenta),
                     ('r', rank_red)):
    for m in members:
        rank[m] = key
colors = []
for b, v in zip(x_bars, all_vol):
    if int(b) in rank:
        colors.append(RANK_COLORS[rank[int(b)]])
    else:
        colors.append('#808080' if v >= 40 else '#a9a9a9')

# grid sits under the session bands
for p in np.arange(280, 407, 2.5):
    ax.axhline(p, color='#e0e0e0', lw=1.1, zorder=0.5)

# triangle and its fill go under the candles
tri_bars = [436, 436, 577.8]
tri_prices = [392.4, 346.3, 346.3]
ax.add_patch(Polygon(list(zip(tri_bars, tri_prices)), closed=True, facecolor='#4da6ff', alpha=0.07, lw=0, zorder=2))
ax.add_patch(Polygon(list(zip(tri_bars, tri_prices)), closed=True, fill=False, edgecolor='#0000ff', lw=0.95, zorder=6))

ax.vlines(x_bars, ohlc[:, 3], ohlc[:, 0], color='black', lw=0.75, zorder=3)
ax.bar(x_bars, ohlc[:, 1] - ohlc[:, 2], bottom=ohlc[:, 2], width=0.62, color=colors, edgecolor='black', linewidth=0.6,
       zorder=3.1)

for start, top, widths in zip(blue_starts, blue_tops, blue_profiles):
    draw_profile(ax, start, top, widths, BLUE_PROF, 4)
for start, pr, length in zip(poc_starts, poc_prices, poc_lengths):
    ax.plot([start, start + length], [pr, pr], color='#e0204a', lw=1.6, zorder=4.2, solid_capstyle='butt')
for start, top, widths in zip(session_bars, yellow_tops, yellow_profiles):
    draw_profile(ax, start, top, widths, YELLOW_PROF, 4.5)

# right hand profile
vp_colors = {'r': '#ff0000', 'm': '#ff00ff', 'o': '#ffa500', 'g': '#a8a8a8', 'k': '#7c7c7c'}
for lvl, w, c in zip(vp_levels, vp_widths, vp_class):
    draw_profile(ax, 603.8 - w, lvl, [w], vp_colors[c], 4, alpha=1)

for lines, color in ((vwap1_lines, '#ffa500'), (vwap2_lines, '#ff1010'), (vwap3_lines, '#9370db')):
    for knots in lines:
        k = np.array(knots)
        ax.plot(k[:, 0], k[:, 1], color=color, lw=0.7, ls=(0, (3, 1, 1, 1)), zorder=5)

for knots in vwap0_lines:
    k = np.array(knots)
    ax.plot(k[:, 0], k[:, 1], color='#2e8b57', lw=0.8, ls=':', zorder=5.5)
    for i in range(len(k) - 1):
        seg_color = '#ff0000' if k[i + 1, 1] < k[i, 1] else '#4169e1'
        ax.plot(k[i:i + 2, 0], k[i:i + 2, 1], color=seg_color, lw=2.3, ls=(0, (2.2, 0.8)), zorder=6)

# naked POC levels carried to the right
ax.plot([360, 605], [393.6, 393.6], color='#ff0000', lw=1.8, ls=(0, (3, 0.8)), zorder=6.2)
ax.plot([314, 605], [331.3, 331.3], color='#ff0000', lw=1.8, ls=(0, (3, 0.8)), zorder=6.2)
ax.plot([0, 605], [305, 305], color='#ff0000', lw=1.6, ls=(0, (4, 1, 1, 1)), zorder=6.2)

ax.plot([436.9, 521.8], [387.9, 344.3], color='#2e8b57', lw=2.4, ls=(0, (1, 2)), zorder=6.3)
ax.axhline(357.5, color='#666666', lw=1.0, zorder=6.4)

# salmon zone box
ax.add_patch(Rectangle((357.75, 332.1), 204.05, 12.06, facecolor='#ff5a1e', alpha=0.22, lw=0, zorder=7))
ax.add_patch(Rectangle((357.75, 332.1), 204.05, 12.06, fill=False, edgecolor='black', lw=2.2, zorder=7.1))

# level lines with their counts
vl_styles = [('black', '-'), ('black', (0, (2, 1))), ('black', '-'), ('#0000aa', '-')]
for xb, lab, (c, ls) in zip(vline_bars, vline_labels, vl_styles):
    ax.plot([xb, xb], [284.6, 393.6], color=c, lw=1.0, ls=ls, zorder=7.2)
    ax.text(xb - 0.6, 400, lab, rotation=90, va='top', ha='right', fontsize=8.4, color='#111111', zorder=8)
ax.plot([586.7, 586.7], [284.6, 393.6], color='black', lw=0.6, ls=(0, (2, 2)), zorder=7.3)
ax.plot([604, 604], [284.6, 393.6], color='black', lw=1.0, zorder=7.2)

for i, s in enumerate(session_bars):
    tx = s + 0.45
    ax.text(tx, title_prices[i], day_names[i], fontsize=10, fontweight='bold', va='center', color='#111111', zorder=8,
            clip_on=True)
    ax.text(tx, title_prices[i] - 2, day_dates[i], fontsize=10, fontweight='bold', va='center', color='#111111', zorder=8,
            clip_on=True)
    y0 = info_prices[i]
    lines = [(0, f'ON Range:    {on_range[i]} $'), (1.76, f'ON SumVol:  {on_sumvol[i]} #'),
             (5.44, f'VPOC:     {day_vpoc[i]} #')]
    if day_range[i]:
        lines += [(7.2, f'Range:    {day_range[i]} $'), (8.96, f'SumVol:  {day_sumvol[i]} #')]
    for off, t in lines:
        ax.text(tx, y0 - off, t, fontsize=8.9, va='center', color='#1a1a1a', zorder=8, clip_on=True)

ax.text(-13.4, 405.3, 'Mindset to Trade(NQ 03-17 (30 Min),True,True,True,True,True)', fontsize=8.0, va='center',
        color='#111111', zorder=8)
ax.text(-11.9, 283.1, 'Minute', fontsize=8.2, va='center', color='#222222', zorder=8)
ax.plot([-12, -2], [281.5, 288.2], color='#ff2020', lw=0.8, ls=(0, (3, 1)), zorder=7)

# session stats top right
ax.text(533.7, 405.0, 'Range: 7 500 $', fontsize=8.9, va='center', color='#222222', zorder=8)
ax.text(533.7, 403.2, 'Avg:     3 985 #', fontsize=8.9, va='center', color='#222222', zorder=8)
ax.text(533.7, 401.5, 'VPOC:  15 859 #', fontsize=8.9, va='center', color='#222222', zorder=8)
ax.text(603.9, 284.3, 'SumVol: 5 980 888 #', fontsize=7.8, ha='right', va='center', color='#222222', zorder=8)
ax.text(603.9, 282.5, '16.01.2017 - 06.03.2017', fontsize=7.8, ha='right', va='center', color='#222222', zorder=8)

for lab, pr in zip(['VWAP[3]', 'VWAP[2]', 'VWAP[1]', 'VWAP[0]'], [370.6, 367.9, 360.2, 358]):
    ax.text(526.2, pr, lab, fontsize=8.8, ha='right', va='center', color='#2222dd', zorder=8)

# order flow numbers piled up against the right edge, the middle ones are unreadable marks
ax.text(603.6, 360.2, '254', fontsize=9.6, fontweight='bold', ha='right', va='center', color='#222222', zorder=8)
ax.text(603.6, 354.4, '275', fontsize=9.6, fontweight='bold', ha='right', va='center', color='#222222', zorder=8)
clutter_bars = [600.6, 601.2, 601.9, 602.5]
ax.vlines(clutter_bars, 355.6, 359.4, color='#222222', lw=1.0, zorder=8)
ax.plot([600.8], [352], marker='v', ms=10, mfc='none', mec='#444444', mew=0.8, zorder=8)
ax.text(603.6, 349.5, '1.08', fontsize=10, fontweight='bold', ha='right', va='center', color='#222222', zorder=8)
ax.text(602.8, 346.5, '21', fontsize=10, fontweight='bold', ha='right', va='center', color='#222222', zorder=8)

# price scale
ax.yaxis.tick_right()
ax.set_yticks(np.arange(280, 401, 10))
ax.yaxis.set_major_formatter(FuncFormatter(lambda p, _: f'{PRICE_BASE + p:.2f}'))
ax.tick_params(axis='y', length=4, width=0.9, pad=3, labelsize=8, colors='#111111')
ax.set_xticks([])

# last price flags
ax.text(1.0045, 356.3, '5356.50', transform=ax.get_yaxis_transform(), fontsize=8, color='#a8b8ff', va='center',
        bbox=dict(boxstyle='square,pad=0.2', fc='#4169e1', ec='#4169e1'), zorder=9, clip_on=False)
ax.text(1.0045, 357.6, '5357.50', transform=ax.get_yaxis_transform(), fontsize=8, fontweight='bold', color='white',
        va='center', bbox=dict(boxstyle='square,pad=0.2', fc='black', ec='black'), zorder=10, clip_on=False)

# volume panel
ax_vol.bar(x_bars, all_vol, width=0.72, color=colors, zorder=3)
ax_vol.set_xticks([])
ax_vol.yaxis.tick_right()
ax_vol.set_yticks([0])
ax_vol.set_yticklabels(['0'])
ax_vol.tick_params(axis='y', length=4, width=0.9, pad=3, labelsize=8, colors='#111111')
ax_vol.text(-13.4, 60, 'mdV2CVPercentileRank(NQ 03-17 (30 Min),1,C:\\Users\\admin\\Documents\\Percentiles NQ\\'
            'PerPercentiles VolumeToCumulVolume NQ 30 Minute 1x (18.11.2013 - 17.11.2015) - 485 days.txt)',
            fontsize=7.9, va='center', color='#111111', zorder=8)
ax_vol.text(600.6, 55, 'Time remaining = 00:17:12', fontsize=8.1, ha='right', va='center', color='#111111', zorder=8)

# lower panel
ax_cum.plot(cumul_bars, cumul_vals, color='black', lw=1.0, zorder=3)
ax_cum.set_yticks([])
ax_cum.set_xticks(session_bars)
ax_cum.set_xticklabels(session_ticks)
ax_cum.tick_params(axis='x', length=4.3, width=0.9, pad=3, labelsize=8, colors='#111111')
ax_cum.text(-13.4, 67, 'Using Binary', fontsize=8.2, va='center', color='#222222', zorder=8, clip_on=True)
ax_cum.text(-13.4, 18, '\u00a9 2017 NinjaTrader, LLC', fontsize=8.2, va='center', color='#111111', zorder=8)

# window furniture
fig.add_artist(Rectangle((0, 0), 5 / W, 1, transform=fig.transFigure, facecolor='#f0f0f0', lw=0, zorder=-1))
for yy in (874, 917):
    fig.add_artist(Line2D([5 / W, 1], [1 - yy / H, 1 - yy / H], color='black', lw=1.0))
fig.add_artist(Line2D([2481 / W, 2481 / W], [1 - 2 / H, 1 - 10 / H], color='black', lw=1.0))
fig.add_artist(Rectangle((2520 / W, 1 - 21 / H), 18 / W, 21 / H, transform=fig.transFigure, facecolor='#e8e8e8',
                         edgecolor='#b0b0b0', lw=0.8))
fig.text(2529 / W, 1 - 9 / H, '\u25bc', fontsize=7, ha='center', va='center', color='black')

fig.savefig('out.png', dpi=100)
